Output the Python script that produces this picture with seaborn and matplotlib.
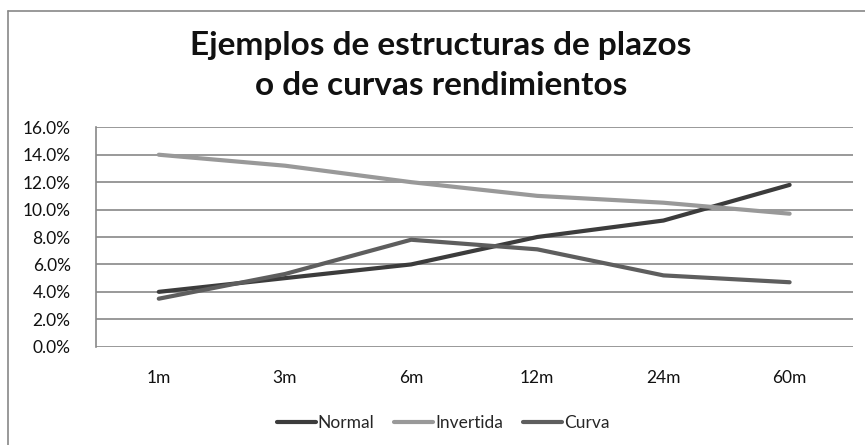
import matplotlib
matplotlib.use("Agg")
import matplotlib.pyplot as plt
from matplotlib.lines import Line2D
import seaborn as sns
import pandas as pd
import numpy as np

plazos = ["1m", "3m", "6m", "12m", "24m", "60m"]
normal = [4.0, 5.0, 6.0, 8.0, 9.2, 11.8]
invertida = [14.0, 13.2, 12.0, 11.0, 10.5, 9.7]
curva = [3.5, 5.3, 7.8, 7.1, 5.2, 4.7]
series_names = ["Normal", "Invertida", "Curva"]
colors = ["#3c3c3c", "#999999", "#5e5e5e"]
yticks = [0, 2, 4, 6, 8, 10, 12, 14, 16]
title_lines = ["Ejemplos de estructuras de plazos", "o de curvas rendimientos"]

sns.set_theme(style="white")
plt.rcParams["font.family"] = ["Lato", "DejaVu Sans"]

df = pd.DataFrame({
    "plazo": plazos * 3,
    "idx": list(range(len(plazos))) * 3,
    "valor": normal + invertida + curva,
    "serie": [s for s in series_names for _ in plazos],
})

W, H = 865, 445
fig = plt.figure(figsize=(W / 100, H / 100), dpi=100)
ax = fig.add_axes([95.7 / W, 1 - 346.7 / H, (852.7 - 95.7) / W, (346.7 - 127.3) / H])

sns.lineplot(data=df, x="idx", y="valor", hue="serie", hue_order=series_names,
             palette=colors, linewidth=3.0, ax=ax, legend=False, sort=False)

ax.set_xlim(-0.5, len(plazos) - 0.5)
ax.set_ylim(0, 16)
ax.set_yticks(yticks)
ax.set_yticklabels([f"{v:.1f}%" for v in yticks], fontsize=12.5, color="#111111")
ax.set_xticks(range(len(plazos)))
ax.set_xticklabels(plazos, fontsize=12.5, color="#111111")
ax.tick_params(axis="x", length=0, pad=17)
ax.tick_params(axis="y", length=0, pad=18)
ax.set_xlabel("")
ax.set_ylabel("")
ax.grid(axis="y", color="#888888", linewidth=1.2)
ax.set_axisbelow(True)
for s in ["top", "right", "bottom"]:
    ax.spines[s].set_visible(False)
ax.spines["left"].set_color("#888888")
ax.spines["left"].set_linewidth(1.2)

for line, base in zip(title_lines, [55, 95]):
    fig.text(441 / W, 1 - base / H, line, ha="center", va="baseline",
             fontsize=24, fontweight="bold", color="#111111")

handles = [Line2D([0], [0], color=c, linewidth=3.0) for c in colors]
fig.legend(handles, series_names, loc="center", bbox_to_anchor=(443 / W, 1 - 423 / H),
           ncol=3, frameon=False, fontsize=12.5, handlelength=2.25, handletextpad=0.1,
           columnspacing=1.15, borderpad=0, borderaxespad=0)

# outer chart border (clipped Excel chart frame)
fig.add_artist(Line2D([8 / W, 1], [1 - 11 / H, 1 - 11 / H], transform=fig.transFigure,
                      color="#888888", linewidth=1.2))
fig.add_artist(Line2D([8 / W, 8 / W], [0, 1 - 11 / H], transform=fig.transFigure,
                      color="#888888", linewidth=1.2))

fig.savefig("out.png", dpi=100, facecolor="white")
